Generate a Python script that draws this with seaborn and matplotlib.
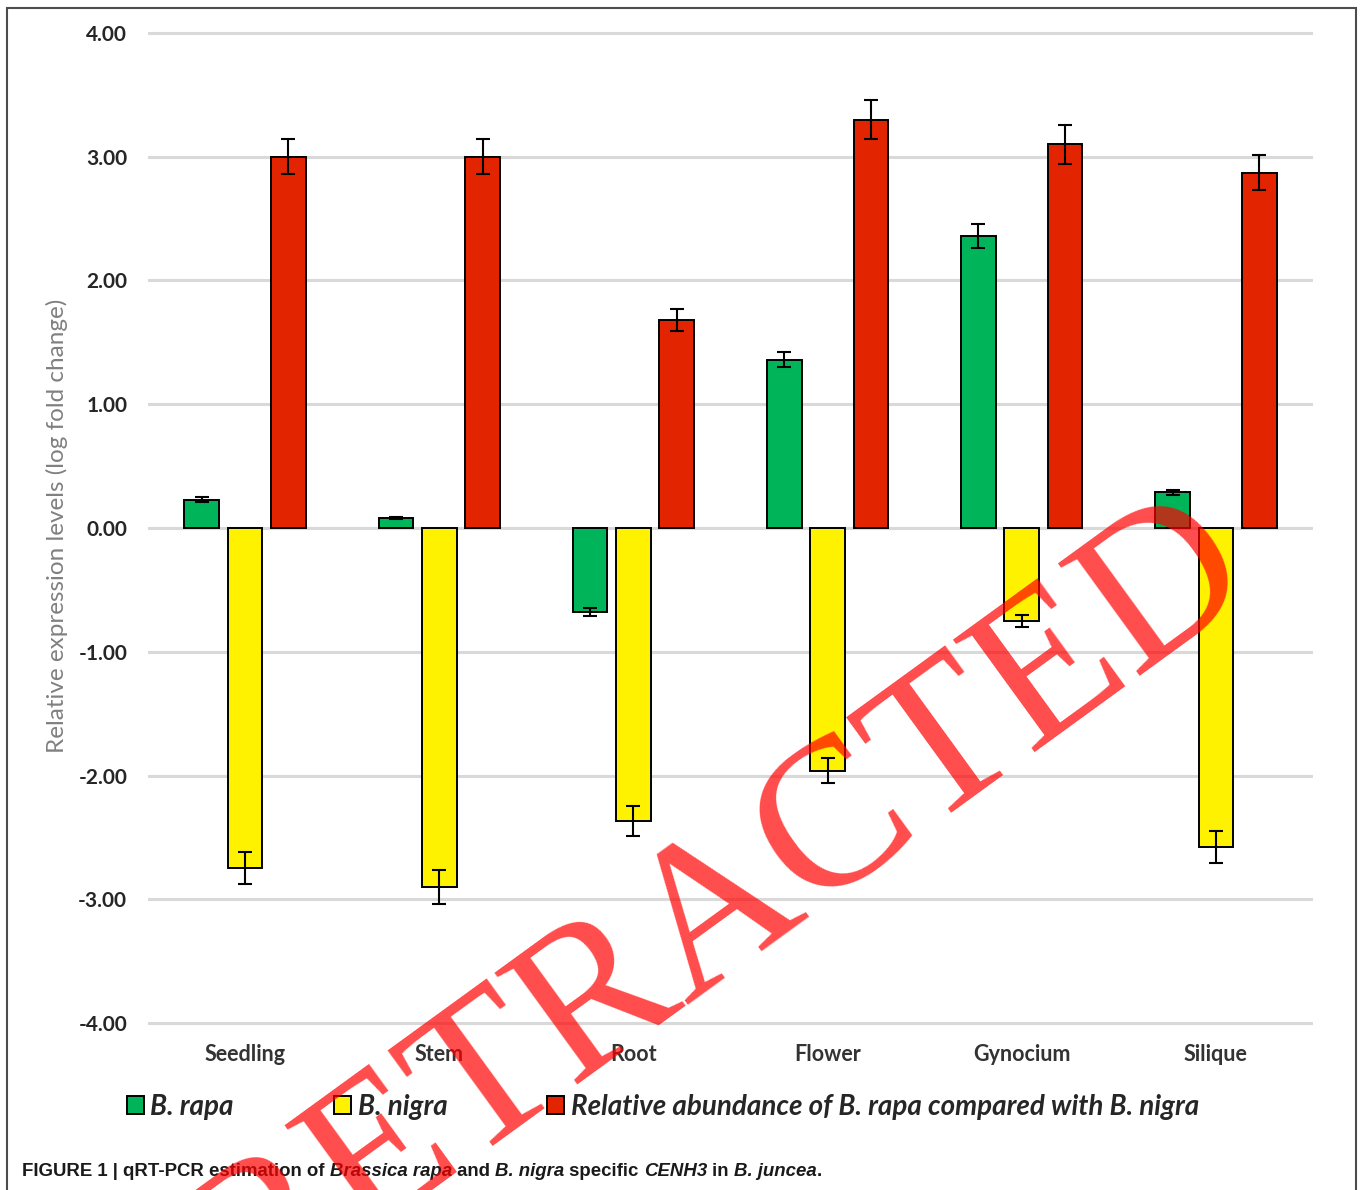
import numpy as np
import pandas as pd
import seaborn as sns
import matplotlib.pyplot as plt
from matplotlib.patches import Patch, Rectangle

# Data
tissues = ["Seedling", "Stem", "Root", "Flower", "Gynocium", "Silique"]
series = ["B. rapa", "B. nigra", "Relative abundance of B. rapa compared with B. nigra"]

rapa = [0.23, 0.08, -0.68, 1.36, 2.36, 0.29]
rapa_err = [0.02, 0.01, 0.03, 0.06, 0.10, 0.02]
nigra = [-2.75, -2.90, -2.37, -1.96, -0.75, -2.58]
nigra_err = [0.13, 0.14, 0.12, 0.10, 0.05, 0.13]
rel = [3.00, 3.00, 1.68, 3.30, 3.10, 2.87]
rel_err = [0.14, 0.14, 0.09, 0.16, 0.16, 0.14]

yticks = [-4, -3, -2, -1, 0, 1, 2, 3, 4]
colors = ["#00b45a", "#fff200", "#e32400"]

df = pd.DataFrame({
    "tissue": tissues * 3,
    "series": np.repeat(series, len(tissues)),
    "value": rapa + nigra + rel,
})

sns.set_style("white")
plt.rcParams["font.family"] = ["Lato", "DejaVu Sans"]

W, H = 1360, 1190
fig = plt.figure(figsize=(W / 100, H / 100), dpi=100)
ax = fig.add_axes([148 / W, 1 - 1025.5 / H, (1313 - 148) / W, (1025.5 - 30.5) / H])

sns.barplot(data=df, x="tissue", y="value", hue="series", hue_order=series,
            palette=colors, saturation=1, width=0.67, gap=0.2,
            edgecolor="black", linewidth=1.4, errorbar=None, legend=False,
            zorder=3, ax=ax)

# error bars on top of each bar
for cont, vals, errs in zip(ax.containers, [rapa, nigra, rel], [rapa_err, nigra_err, rel_err]):
    xs = [b.get_x() + b.get_width() / 2 for b in cont]
    ax.errorbar(xs, vals, yerr=errs, fmt="none", ecolor="black",
                elinewidth=1.5, capsize=5, capthick=1.5, zorder=4)

ax.set_xlim(-0.5, 5.5)
ax.set_ylim(-4.02, 4.02)
ax.set_yticks(yticks)
ax.set_yticklabels([f"{v:.2f}" for v in yticks])
ax.set_axisbelow(True)
ax.yaxis.grid(True, color="#d9d9d9", linewidth=2.2)
ax.xaxis.grid(False)
for s in ax.spines.values():
    s.set_visible(False)
ax.tick_params(axis="y", length=0, pad=15, labelsize=15, labelcolor="#262626")
ax.tick_params(axis="x", length=0, pad=13, labelsize=15.5, labelcolor="#333333")
for lab in ax.get_yticklabels():
    lab.set_fontweight("bold")
for lab in ax.get_xticklabels():
    lab.set_fontweight("bold")
ax.set_xlabel("")
ax.set_ylabel("")

fig.text(57 / W, 1 - 526 / H, "Relative expression levels (log fold change)",
         rotation=90, ha="center", va="center", fontsize=17.5, color="#808080")

# legend row
handles = [Patch(facecolor=c, edgecolor="black", linewidth=1.4) for c in colors]
fig.legend(handles, series, loc="center", bbox_to_anchor=(663 / W, 1 - 1107 / H),
           ncol=3, frameon=False, handlelength=0.6, handleheight=0.6,
           handletextpad=0.25, columnspacing=3.6,
           prop=dict(style="italic", weight="bold", size=20), labelcolor="#262626")

# caption with italic pieces
pieces = [("FIGURE 1 | qRT-PCR estimation of ", "normal"), ("Brassica rapa", "italic"),
          (" and ", "normal"), ("B. nigra", "italic"), (" specific ", "normal"),
          ("CENH3", "italic"), (" in ", "normal"), ("B. juncea", "italic"), (".", "normal")]
renderer = fig.canvas.get_renderer()
x = 22 / W
for txt, style in pieces:
    t = fig.text(x, 1 - 1172 / H, txt, ha="left", va="center", fontsize=13.4,
                 family=["Liberation Sans"], weight="bold", style=style, color="#1a1a1a")
    x += t.get_window_extent(renderer).width / W

# outer frame
fig.add_artist(Rectangle((7 / W, -0.05), (1356 - 7) / W, 1.05 - 8 / H,
                         transform=fig.transFigure, fill=False,
                         edgecolor="#4d4d4d", linewidth=1.5))

# watermark, anchored at the end of its baseline
fig.text(1259 / W, 1 - 585 / H, "RETRACTED", fontsize=153, family=["Liberation Serif"],
         color="red", alpha=0.7, rotation=36, rotation_mode="anchor",
         ha="right", va="baseline", zorder=10)

fig.savefig("out.png", dpi=100)
